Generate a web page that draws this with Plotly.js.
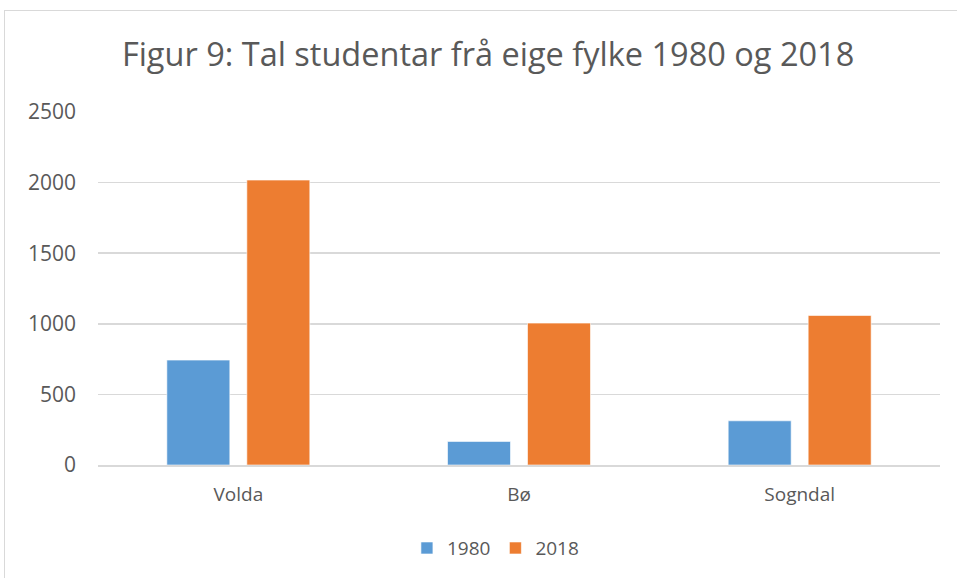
<!DOCTYPE html>
<html>
<head>
<meta charset="utf-8">
<script src="https://cdn.plot.ly/plotly-3.0.1.min.js"></script>
<style>
html,body{margin:0;padding:0;background:#fff;}
#wrap{position:relative;width:957px;height:578px;overflow:hidden;}
#chart{position:absolute;left:0;top:0;width:957px;height:578px;}
#frame{position:absolute;left:4px;top:10px;width:970px;height:600px;border:1px solid #d9d9d9;pointer-events:none;}
</style>
</head>
<body>
<div id="wrap"><div id="chart"></div><div id="frame"></div></div>
<script>
const categories = ["Volda", "Bø", "Sogndal"];
const seriesNames = ["1980", "2018"];
const values1980 = [743, 167, 313];
const values2018 = [2018, 1005, 1059];
const yTicks = [0, 500, 1000, 1500, 2000, 2500];

const font = "Open Sans, Liberation Sans, sans-serif";
const data = [
  {type: "bar", name: seriesNames[0], x: categories, y: values1980,
   marker: {color: "#5b9bd5", line: {color: "#ffffff", width: 0.6}}},
  {type: "bar", name: seriesNames[1], x: categories, y: values2018,
   marker: {color: "#ed7d31", line: {color: "#ffffff", width: 0.6}}}
];
const layout = {
  width: 957, height: 578,
  margin: {l: 98, r: 17, t: 112, b: 112},
  paper_bgcolor: "#ffffff", plot_bgcolor: "#ffffff",
  font: {family: font, color: "#595959", size: 19},
  title: {text: "Figur 9: Tal studentar frå eige fylke 1980 og 2018",
          font: {family: font, size: 32.5, color: "#595959"},
          x: 0.51, xanchor: "center", y: 0.905, yanchor: "middle"},
  barmode: "group", bargap: 0.43, bargroupgap: 0.2125,
  xaxis: {showgrid: false, showline: true, linecolor: "#d9d9d9", linewidth: 1.5,
          ticks: "", ticklabelstandoff: 12, tickfont: {size: 19, color: "#595959"}, fixedrange: true},
  yaxis: {range: [0, 2500], tickvals: yTicks, ticktext: yTicks.map(String),
          showgrid: true, gridcolor: "#d9d9d9", gridwidth: 1.5, zeroline: false,
          showline: false, ticks: "", ticklabelstandoff: 21,
          tickfont: {size: 21, color: "#595959"}, fixedrange: true},
  showlegend: true,
  legend: {orientation: "h", x: 0.472, xanchor: "center", y: -0.232, yanchor: "middle",
           font: {size: 19, color: "#595959"}, itemwidth: 30, tracegroupgap: 0}
};
Plotly.newPlot("chart", data, layout, {displayModeBar: false, staticPlot: true});
</script>
</body>
</html>
